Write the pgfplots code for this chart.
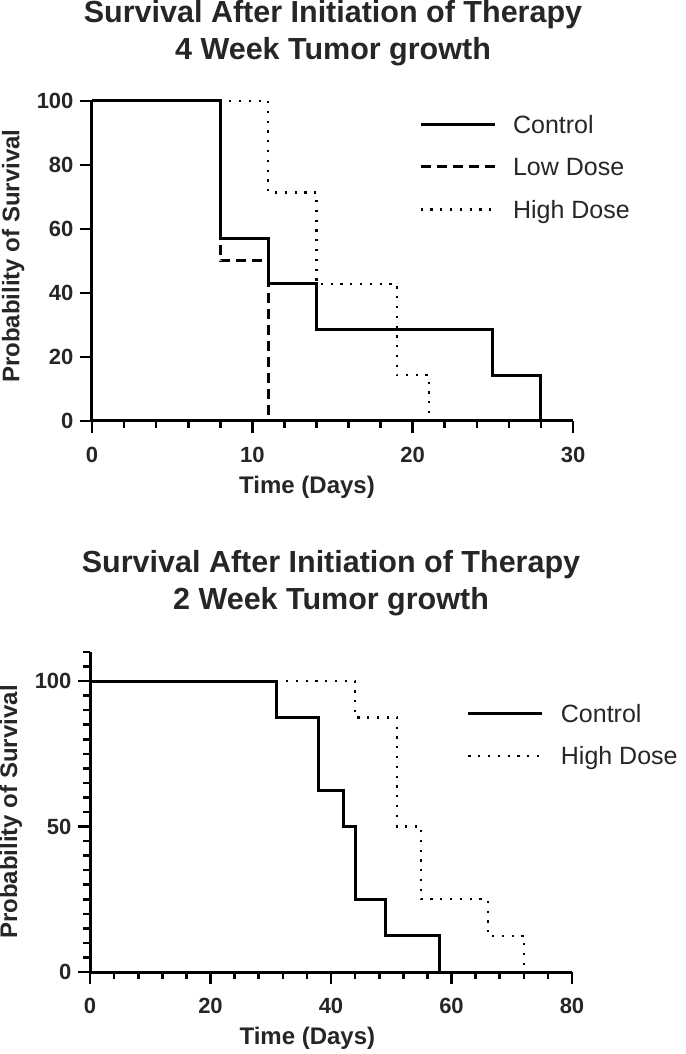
\documentclass[border=0pt]{standalone}
\usepackage{fontspec}
\setmainfont{Liberation Sans}
\usepackage{pgfplots}
\pgfplotsset{compat=1.18}
\definecolor{txt}{gray}{0.15}
\pgfplotsset{
  km/.style={
    scale only axis,
    axis lines*=left,
    clip=false,
    axis line style={line width=3pt, black},
    tick style={line width=2.6pt, black},
    major tick length=12pt,
    minor tick length=7pt,
    tick align=outside,
    /pgf/number format/assume math mode=true,
    ticklabel style={font=\fontsize{22}{22}\selectfont\bfseries, text=txt},
    xticklabel style={yshift=-11pt},
    yticklabel style={xshift=-3pt},
    xlabel={Time (Days)},
    ylabel={Probability of Survival},
    label style={font=\fontsize{24}{24}\selectfont\bfseries, text=txt},
    ylabel style={anchor=center},
    legend cell align=left,
    legend style={draw=none, fill=none, inner sep=0pt, outer sep=0pt,
      font=\fontsize{25}{25}\selectfont, text=txt,
      nodes={inner sep=0pt, text height=18pt, text depth=0pt},
      column sep=17pt, row sep=24.5pt},
    legend image code/.code={\draw[##1] (0pt,0pt) -- (74pt,0pt);},
  },
  ctrl/.style={black, line width=3pt, line join=miter, const plot mark left},
  low/.style={black, line width=3pt, dash pattern=on 10pt off 6pt, const plot mark left},
  high/.style={black, line width=2.2pt, dash pattern=on 2.2pt off 7.6pt, const plot mark left},
}
\begin{document}
\begin{tikzpicture}
\useasboundingbox (0,0) rectangle (685pt,1054pt);
% ---------------- Top chart ----------------
\node[anchor=base, font=\fontsize{30.5}{30.5}\selectfont\bfseries, text=txt] at (333pt,1031pt) {Survival After Initiation of Therapy};
\node[anchor=base, font=\fontsize{30.5}{30.5}\selectfont\bfseries, text=txt] at (333pt,994pt) {4 Week Tumor growth};
\begin{axis}[km,
  at={(92pt,633pt)}, anchor=south west,
  width=481pt, height=320pt,
  xmin=0, xmax=30, ymin=0, ymax=100,
  xtick={0,10,20,30}, minor xtick={0,2,...,30},
  ytick={0,20,...,100},
  xlabel style={at={(axis description cs:0.447,-0.228)}, anchor=base},
  ylabel style={at={(axis description cs:-0.164,0.515)}},
  legend style={at={(axis description cs:0.680,0.794)}, anchor=west},
]
\addplot[ctrl] coordinates {(0,100) (8,57.14) (11,42.86) (14,28.57) (25,14.29) (28,0)};
\addlegendentry{Control}
\addplot[low] coordinates {(0,100) (8,50) (11,0)};
\addlegendentry{Low Dose}
\addplot[high] coordinates {(0,100) (11,71.43) (14,42.86) (19,14.29) (21,0)};
\addlegendentry{High Dose}
\end{axis}
% ---------------- Bottom chart ----------------
\node[anchor=base, font=\fontsize{30.5}{30.5}\selectfont\bfseries, text=txt] at (331pt,481pt) {Survival After Initiation of Therapy};
\node[anchor=base, font=\fontsize{30.5}{30.5}\selectfont\bfseries, text=txt] at (331pt,444pt) {2 Week Tumor growth};
\begin{axis}[km,
  at={(90pt,82pt)}, anchor=south west,
  width=482pt, height=320pt,
  xmin=0, xmax=80, ymin=0, ymax=110,
  xtick={0,20,...,80}, minor xtick={0,4,...,80},
  ytick={0,50,100}, minor ytick={0,5,...,110},
  xlabel style={at={(axis description cs:0.451,-0.228)}, anchor=base},
  ylabel style={at={(axis description cs:-0.164,0.5)}},
  legend style={at={(axis description cs:0.782,0.742)}, anchor=west},
]
\addplot[ctrl] coordinates {(0,100) (31,87.5) (38,62.5) (42,50) (44,25) (49,12.5) (58,0)};
\addlegendentry{Control}
\addplot[high] coordinates {(0,100) (44,87.5) (51,50) (55,25) (66,12.5) (72,0)};
\addlegendentry{High Dose}
\end{axis}
\end{tikzpicture}
\end{document}
